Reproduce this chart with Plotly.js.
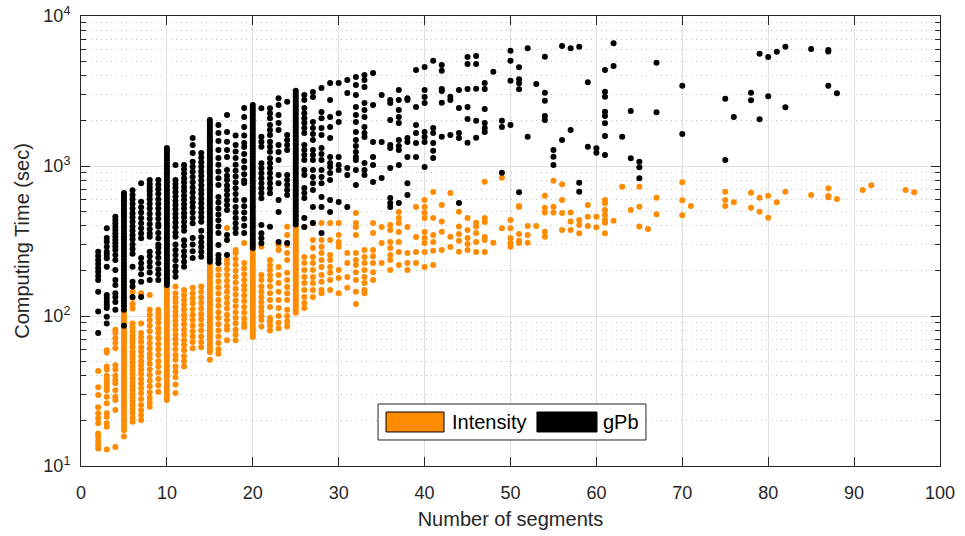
<!DOCTYPE html>
<html><head><meta charset="utf-8">
<script src="https://cdn.plot.ly/plotly-3.0.1.min.js"></script>
<style>html,body{margin:0;padding:0;background:#fff}#chart{width:965px;height:536px}</style>
</head><body><div id="chart"></div>
<script>
const seriesNames = ['Intensity', 'gPb'];
const seriesColors = ['#ff8c00', '#000000'];
const xTickValues = [0, 10, 20, 30, 40, 50, 60, 70, 80, 90, 100];
const yTickValues = [10, 100, 1000, 10000];
const yTickLabels = ['10<sup>1</sup>', '10<sup>2</sup>', '10<sup>3</sup>', '10<sup>4</sup>'];
const yMinorValues = [20,30,40,50,60,70,80,90,200,300,400,500,600,700,800,900,2000,3000,4000,5000,6000,7000,8000,9000];
const xTitle = 'Number of segments';
const yTitle = 'Computing Time (sec)';

// [number of segments, computing times (sec)]
const intensityColumns = [
 [2, [43, 33.5, 29.7, 24.6, 22.5, 20.8, 19.3, 16.5, 15.7, 14.7, 13.8, 13.1]],
 [3, [59, 57, 46, 44, 40, 37.4, 35.6, 33.8, 32, 29, 26.2, 22.5, 21.3, 19.3, 18.3, 12.9]],
 [4, [81, 77, 71, 66, 61, 47, 44, 40, 37.4, 35.6, 32, 29, 27.5, 23.6, 13.4]],
 [5, [107, 103, 98, 94, 90, 86, 82, 78, 75, 72, 69, 66, 63, 60, 57.5, 55, 52.5, 50, 48, 46, 44, 42, 40, 38.5, 37, 35.5, 34, 32.5, 31, 29.5, 28, 27, 26, 24.8, 23.7, 22.6, 21.6, 20.6, 19.7, 18.8, 18, 17.3, 15.7]],
 [6, [145, 132, 120, 112, 89, 84, 79, 74, 70, 66, 62, 58, 55, 52, 49, 46, 43.5, 41, 38.5, 36, 34, 32, 30, 28.5, 27, 25.5, 24, 22.6, 21, 19.7]],
 [7, [142, 89, 77, 72, 67, 62, 58, 54, 50, 47, 44, 41, 38, 35.5, 33, 30.5, 28, 25.5, 23.5, 21.8, 20.3]],
 [8, [138, 110, 102, 94, 86, 79, 72, 66, 61, 56, 52, 48, 44, 40.5, 37, 34, 31, 28.5, 26.5, 24.8]],
 [9, [110, 104, 97, 90, 83, 77, 71, 65, 60, 55, 50, 46, 42, 38, 34.5, 31.3]],
 [10, [157, 150, 143, 137, 131, 125, 119, 114, 109, 104, 99, 95, 91, 87, 83, 79, 75.5, 72, 69, 66, 63, 60, 57, 54.5, 52, 49.5, 47, 45, 43, 41, 39, 37, 35, 33.3, 31.7, 30.2, 28.8, 27.5]],
 [11, [157, 142, 133, 124, 115, 107, 100, 93, 87, 81, 75, 70, 65, 60, 55, 51, 46, 42.5, 39, 35, 30.7]],
 [12, [149, 138, 128, 119, 110, 102, 95, 88, 81, 75, 69, 64, 59, 54, 50, 46]],
 [13, [154, 142, 131, 121, 111, 102, 94, 86, 79, 73, 67, 61]],
 [14, [157, 145, 133, 122, 112, 103, 95, 87, 80, 73, 67, 62]],
 [15, [219, 210, 201, 193, 185, 177, 170, 163, 156, 150, 144, 138, 132, 127, 122, 117, 112, 107.5, 103, 99, 95, 91, 87, 83.5, 80, 77, 74, 71, 68, 65, 62.5, 60, 57.5, 51]],
 [16, [226, 205, 187, 170, 155, 141, 128, 117, 106, 97, 88, 80, 73, 66, 60, 56]],
 [17, [386, 236, 222, 205, 188, 172, 158, 145, 133, 122, 112, 102, 94, 86, 81, 69]],
 [18, [275, 263, 240, 220, 200, 183, 167, 152, 139, 127, 116, 106, 97, 89, 81, 75, 69]],
 [19, [307, 226, 207, 190, 174, 160, 149, 137, 126, 115, 105, 96, 89, 84.5]],
 [20, [275, 263, 252, 241, 231, 221, 211, 202, 193, 185, 177, 169, 162, 155, 148, 141, 135, 129, 123, 118, 113, 108, 103, 98.5, 94, 90, 86, 82, 78.5, 75, 72.4]],
 [21, [290, 188, 174, 157, 145, 134, 124, 115, 107, 99.5, 94, 85]],
 [22, [236, 219, 203, 188, 174, 157, 142, 128, 115, 97, 92, 86, 80]],
 [23, [297, 275, 212, 188, 166, 145, 128, 113, 100, 90, 83]],
 [24, [394, 347, 297, 263, 236, 194, 174, 156, 142, 128, 110, 100, 92, 85]],
 [25, [400, 384, 369, 354, 340, 327, 314, 301, 289, 278, 267, 256, 246, 236, 227, 218, 209, 201, 193, 185, 178, 171, 164, 157, 151, 145, 139, 134, 128, 123, 118, 114, 109, 105]],
 [26, [392, 247, 226, 203, 182, 166, 149, 134, 122, 113]],
 [27, [417, 321, 284, 247, 226, 203, 182, 166, 149, 134]],
 [28, [417, 321, 289, 263, 236, 212, 188, 169, 149, 142]],
 [29, [417, 321, 255, 236, 212, 194, 174, 149]],
 [30, [417, 347, 311, 290, 203, 179, 142]],
 [31, [263, 226, 182, 154]],
 [32, [486, 417, 392, 347, 263, 236, 219, 196, 174, 145, 120]],
 [33, [275, 247, 226, 203, 182, 166, 149, 142]],
 [34, [417, 357, 275, 250, 226, 196, 174]],
 [35, [392, 307, 226]],
 [36, [404, 374, 311, 284, 255, 236, 203]],
 [37, [494, 450, 417, 363, 311, 267, 219]],
 [38, [392, 263, 226, 203]],
 [39, [533, 336, 267, 226]],
 [40, [593, 533, 486, 450, 363, 331, 307, 267, 212]],
 [41, [671, 450, 347, 311, 272, 219]],
 [42, [550, 426, 365, 275]],
 [43, [661, 338, 288]],
 [44, [496, 395, 352, 317, 268]],
 [45, [450, 374, 331, 302, 275]],
 [46, [419, 395, 357, 311, 267]],
 [47, [785, 450, 424, 336, 321, 267]],
 [48, [308]],
 [49, [835, 384]],
 [50, [437, 384, 331, 307, 290]],
 [51, [541, 533, 352, 317, 307]],
 [52, [398, 347, 308]],
 [53, [398]],
 [54, [634, 527, 489, 365, 338]],
 [55, [798, 535, 489]],
 [56, [755, 593, 486, 374]],
 [57, [489, 426, 374]],
 [58, [437, 404, 356]],
 [59, [550, 459, 398]],
 [60, [459, 390]],
 [61, [593, 564, 509, 471, 437, 419, 356]],
 [62, [432]],
 [63, [727]],
 [64, [509]],
 [65, [727, 535, 395]],
 [66, [380]],
 [67, [615, 477]],
 [70, [778, 591, 469]],
 [71, [541]],
 [75, [674, 593, 541]],
 [76, [573]],
 [78, [664, 527]],
 [79, [615, 496]],
 [80, [634, 452]],
 [81, [573]],
 [82, [674]],
 [85, [641]],
 [87, [710, 631, 618]],
 [88, [603]],
 [91, [692]],
 [92, [743]],
 [96, [692]],
 [97, [668]]
];

const gpbColumns = [
 [2, [268, 251, 236, 222, 209, 197, 185, 174, 145, 107, 77]],
 [3, [384, 331, 313, 290, 268, 255, 243, 213, 138, 131, 124, 118, 113, 99, 89]],
 [4, [459, 437, 415, 394, 374, 356, 338, 321, 305, 290, 275, 255, 236, 203, 174, 161, 142, 134, 124, 110]],
 [5, [660, 640, 615, 590, 570, 545, 520, 500, 482, 460, 440, 425, 405, 390, 372, 355, 340, 325, 312, 298, 285, 272, 260, 250, 238, 226, 215, 205, 196, 186, 178, 170, 162, 154, 147, 140, 133, 127, 121, 116, 110, 86]],
 [6, [690, 640, 600, 560, 520, 485, 455, 425, 395, 370, 345, 325, 300, 280, 260, 213, 169, 157, 134]],
 [7, [767, 578, 530, 490, 450, 415, 385, 355, 330, 244, 225, 208, 190, 169, 134]],
 [8, [807, 760, 720, 680, 640, 600, 560, 520, 480, 445, 410, 380, 355, 338, 268, 250, 230, 213, 195, 174]],
 [9, [807, 750, 700, 650, 600, 560, 520, 480, 445, 410, 394, 357, 330, 300, 285, 265, 245, 225, 205, 190, 174]],
 [10, [1320, 1270, 1220, 1170, 1120, 1080, 1040, 995, 955, 915, 880, 845, 810, 778, 745, 715, 685, 660, 633, 607, 583, 560, 537, 515, 494, 474, 455, 437, 419, 402, 386, 370, 355, 340, 326, 313, 300, 288, 276, 265, 254, 244, 234, 224, 215, 206, 198, 190, 182, 175, 168, 161]],
 [11, [1016, 807, 760, 715, 670, 625, 585, 550, 515, 480, 450, 420, 390, 360, 338, 300, 275, 255, 235, 215, 198, 183]],
 [12, [1016, 950, 890, 830, 775, 725, 680, 635, 595, 555, 520, 485, 455, 425, 395, 370, 320, 295, 270, 250, 230, 213]],
 [13, [1537, 1380, 1221, 1069, 990, 915, 845, 780, 720, 665, 615, 570, 530, 490, 450, 415, 331, 300, 270, 244]],
 [14, [1221, 1140, 1060, 990, 920, 860, 800, 745, 695, 650, 605, 565, 525, 490, 455, 425, 370, 335, 310, 290, 268, 248]],
 [15, [2027, 1950, 1870, 1790, 1720, 1650, 1580, 1520, 1460, 1400, 1345, 1290, 1240, 1190, 1140, 1095, 1050, 1010, 970, 930, 893, 857, 822, 789, 757, 727, 698, 670, 643, 617, 592, 568, 545, 523, 502, 482, 462, 444, 426, 409, 392, 376, 361, 347, 333, 319, 306, 294, 282, 271, 260, 249, 239, 230]],
 [16, [1875, 1660, 1470, 1279, 1130, 1020, 920, 830, 747, 621, 570, 520, 475, 435, 395, 357, 297, 255, 240, 226]],
 [17, [2188, 1686, 1450, 1279, 1148, 940, 860, 807, 740, 692, 640, 593, 550, 509, 347, 321, 255]],
 [18, [1600, 1380, 1250, 1130, 1020, 930, 850, 775, 710, 650, 593, 533, 490, 450, 415, 385, 357]],
 [19, [2437, 2123, 1820, 1600, 1423, 1340, 1200, 1080, 975, 880, 800, 771, 593, 540, 490, 445, 400, 357]],
 [20, [2553, 2450, 2350, 2250, 2160, 2070, 1985, 1905, 1830, 1755, 1685, 1615, 1550, 1490, 1430, 1370, 1315, 1260, 1210, 1160, 1115, 1070, 1025, 985, 945, 905, 870, 835, 800, 768, 737, 707, 678, 651, 624, 599, 575, 552, 530, 508, 488, 468, 449, 431, 414, 397, 381, 365, 350, 336, 322, 309, 296, 284]],
 [21, [2427, 1567, 1452, 1345, 1042, 966, 894, 828, 767, 710, 658, 609, 404, 356, 330, 305]],
 [22, [2427, 2245, 2080, 1875, 1738, 1610, 1452, 1345, 1245, 1125, 1042, 966, 894, 828, 767, 710, 658, 394]],
 [23, [2825, 2553, 2188, 1936, 1738, 1380, 1240, 1096, 871, 767, 593, 494, 311]],
 [24, [2685, 1610, 1491, 1380, 1279, 871, 807, 747, 692, 641, 307]],
 [25, [3170, 3050, 2930, 2810, 2700, 2590, 2490, 2390, 2300, 2210, 2120, 2040, 1960, 1880, 1810, 1740, 1670, 1600, 1540, 1480, 1420, 1365, 1310, 1260, 1210, 1160, 1115, 1070, 1030, 990, 950, 912, 876, 842, 808, 776, 746, 716, 688, 661, 635, 610, 586, 563, 541, 520, 499, 479, 460, 442, 425, 408]],
 [26, [2972, 2754, 2437, 2245, 2080, 1936, 1790, 1660, 1380, 1279, 1184, 1096, 940, 871, 713, 661, 612, 450, 392]],
 [27, [3112, 2884, 1963, 1790, 1633, 1491, 1279, 1184, 1096, 940, 845, 767, 692, 533, 417]],
 [28, [3311, 2291, 2080, 1790, 1610, 1318, 1202, 1096, 940, 845, 767, 621, 533, 357]],
 [29, [3573, 2754, 2123, 1820, 1537, 1148, 1047, 984, 898, 807, 593, 494]],
 [30, [3573, 2245, 1963, 1148, 1016, 940, 575]],
 [31, [3742, 3069, 970, 871, 533]],
 [32, [3917, 3467, 2972, 2472, 2188, 1963, 1686, 1491, 1359, 1240, 1148, 1096, 940, 747]],
 [33, [4046, 3742, 3365, 2630, 2361, 2123, 1820, 1660, 1560, 1047, 940, 871]],
 [34, [4169, 2553, 1445, 1148, 1016, 782]],
 [35, [2972, 1445, 832]],
 [36, [2754, 2630, 2027, 1380, 1318, 970, 612, 566, 533]],
 [37, [3214, 2754, 2361, 2123, 1936, 1491, 1359, 1279, 1016, 566]],
 [38, [2825, 2754, 1537, 1445, 1148, 767, 641]],
 [39, [4365, 2472, 1875, 1660, 1423, 1148]],
 [40, [4571, 3214, 2884, 2630, 1686, 1560, 1445, 984]],
 [41, [5035, 1790, 1660, 1423, 1264, 1130]],
 [42, [4713, 4315, 3260, 3162, 2642, 1567]],
 [43, [2897, 2754, 1610]],
 [44, [3214, 2437, 1660, 1537, 566]],
 [45, [5333, 4786, 3260, 2472, 2057, 1430]],
 [46, [5412, 4786, 3273, 2004, 1545]],
 [47, [3573, 3260, 2399, 1936, 1790, 1686]],
 [48, [4253]],
 [49, [2004, 1820, 902]],
 [50, [5875, 5035, 3706, 1875]],
 [51, [4550, 3784, 3556, 3245, 668]],
 [52, [6095, 1567]],
 [53, [3524]],
 [54, [5355, 3081, 2723, 2154, 2027]],
 [55, [1279, 1153, 1016]],
 [56, [6310, 1491]],
 [57, [6095, 1738]],
 [58, [6233, 774, 674]],
 [59, [3614, 1345]],
 [60, [1312, 1227]],
 [61, [4365, 3126, 2897, 2302, 2154, 1929, 1585, 1184]],
 [62, [6577, 4642]],
 [63, [1567]],
 [64, [2328, 1125]],
 [65, [1069, 980, 828]],
 [67, [4886, 2280]],
 [70, [3428, 1633]],
 [75, [2811, 1096]],
 [76, [2123]],
 [78, [3081, 2740]],
 [79, [5610, 2047]],
 [80, [5333, 2915]],
 [81, [5782]],
 [82, [6238, 2460]],
 [85, [6026]],
 [87, [5936, 5800, 3428]],
 [88, [3055]]
];

function flatten(cols) {
  const x = [], y = [];
  cols.forEach(([n, vals]) => vals.forEach(v => { x.push(n); y.push(v); }));
  return {x, y};
}

const FONT = 'Liberation Sans, Arial, Helvetica, sans-serif';
const TXT = '#262626';
const intensity = flatten(intensityColumns);
const gpb = flatten(gpbColumns);

const traces = [
  {x: intensity.x, y: intensity.y, name: seriesNames[0], type: 'scatter', mode: 'markers',
   marker: {color: seriesColors[0], size: 6, line: {width: 0}}, showlegend: false, hoverinfo: 'x+y'},
  {x: gpb.x, y: gpb.y, name: seriesNames[1], type: 'scatter', mode: 'markers',
   marker: {color: seriesColors[1], size: 6, line: {width: 0}}, showlegend: false, hoverinfo: 'x+y'}
];

// legend drawn in paper coordinates (MATLAB-like wide swatches)
const lg = {x0: 0.3458, x1: 0.6577, y0: 0.0578, y1: 0.1378};
const shapes = [
  {type: 'rect', xref: 'paper', yref: 'paper', x0: lg.x0, x1: lg.x1, y0: lg.y0, y1: lg.y1,
   fillcolor: '#ffffff', line: {color: TXT, width: 1}},
  {type: 'rect', xref: 'paper', yref: 'paper', x0: 0.3551, x1: 0.4226, y0: 0.0756, y1: 0.1200,
   fillcolor: seriesColors[0], line: {color: '#000', width: 1}},
  {type: 'rect', xref: 'paper', yref: 'paper', x0: 0.5308, x1: 0.6007, y0: 0.0756, y1: 0.1200,
   fillcolor: seriesColors[1], line: {color: '#000', width: 1}}
];
const annotations = [
  {xref: 'paper', yref: 'paper', x: 0.4296, y: 0.0978, xanchor: 'left', yanchor: 'middle',
   text: seriesNames[0], showarrow: false, font: {family: FONT, size: 20, color: '#000'}},
  {xref: 'paper', yref: 'paper', x: 0.6050, y: 0.0978, xanchor: 'left', yanchor: 'middle',
   text: seriesNames[1], showarrow: false, font: {family: FONT, size: 20, color: '#000'}}
];

const layout = {
  width: 965, height: 536,
  margin: {l: 81, r: 25, t: 16, b: 70, pad: 0},
  paper_bgcolor: '#ffffff', plot_bgcolor: '#ffffff',
  font: {family: FONT, size: 18, color: TXT},
  showlegend: false,
  xaxis: {
    range: [0, 100], tickmode: 'array', tickvals: xTickValues,
    ticks: 'inside', ticklen: 9, tickwidth: 1, tickcolor: TXT,
    showline: true, linecolor: TXT, linewidth: 1, mirror: 'allticks',
    showgrid: true, gridcolor: '#e0e0e0', gridwidth: 1, zeroline: false,
    tickfont: {family: FONT, size: 18, color: TXT}, ticklabelstandoff: 10,
    title: {text: xTitle, font: {family: FONT, size: 20, color: TXT}, standoff: 10}
  },
  yaxis: {
    type: 'log', range: [1, 4], tickmode: 'array', tickvals: yTickValues, ticktext: yTickLabels,
    ticks: 'inside', ticklen: 9, tickwidth: 1, tickcolor: TXT,
    showline: true, linecolor: TXT, linewidth: 1, mirror: 'allticks',
    showgrid: true, gridcolor: '#e0e0e0', gridwidth: 1, zeroline: false,
    tickfont: {family: FONT, size: 18, color: TXT}, ticklabelstandoff: 6,
    minor: {tickmode: 'array', tickvals: yMinorValues, ticks: 'inside', ticklen: 5, tickcolor: TXT,
            showgrid: true, gridcolor: '#c4c4c4', griddash: '1px,4px', gridwidth: 1},
    title: {text: yTitle, font: {family: FONT, size: 20, color: TXT}, standoff: 8}
  },
  shapes: shapes,
  annotations: annotations
};

Plotly.newPlot('chart', traces, layout, {displayModeBar: false, staticPlot: true});
</script>
</body></html>
